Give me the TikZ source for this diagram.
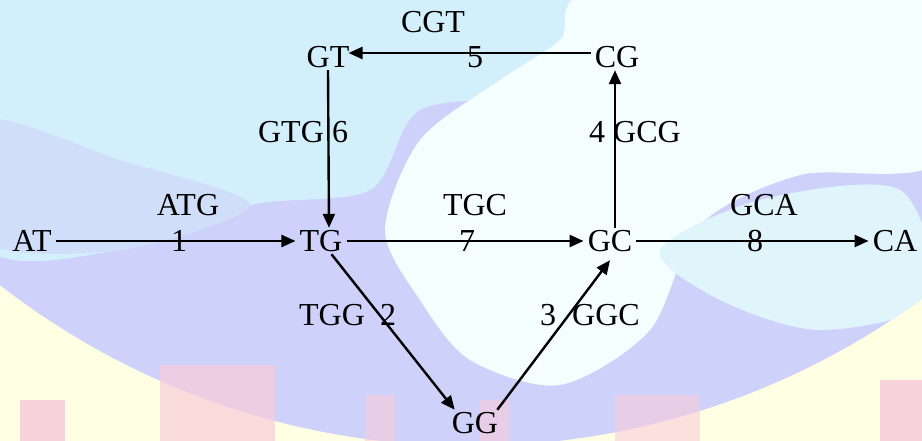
\documentclass[tikz,border=0pt]{standalone}
\usepackage{fontspec}
\setmainfont{Liberation Serif}
\usetikzlibrary{arrows.meta,calc}
\definecolor{cream}{HTML}{FFFFE4}
\definecolor{lav}{HTML}{CED2FA}
\definecolor{cyanl}{HTML}{D3EFFB}
\definecolor{whitec}{HTML}{F4FEFF}
\definecolor{pinkb}{HTML}{F9CCDA}
\newcommand\dfont{\fontsize{32}{38}\selectfont}
\tikzset{
  nd/.style={font=\dfont, inner xsep=4pt, inner ysep=2.5pt, text height=21pt, text depth=0pt},
  lab/.style={font=\dfont, inner sep=0pt, text height=21pt, text depth=0pt},
  edge/.style={line width=2.4pt, -{Triangle[length=14pt,width=12pt]}},
}
\begin{document}
\begin{tikzpicture}[x=1pt,y=-1pt]
\useasboundingbox (0,0) rectangle (922,441);
% background
\fill[cream] (0,0) rectangle (922,441);
\begin{scope}
\clip (0,0) rectangle (922,441);
\fill[lav] (470,-321) circle (767);
\clip (470,-321) circle (767);
\fill[cyanl] plot[smooth cycle] coordinates {(-20,-20) (700,-20) (650,60) (540,95) (420,110) (370,190) (250,205) (120,250) (-20,240)};
\fill[lav!60!cyanl] plot[smooth cycle] coordinates {(-20,120) (120,160) (250,205) (120,250) (-20,240)};
\fill[whitec] plot[smooth cycle] coordinates {(600,-10) (940,-10) (940,160) (800,175) (700,225) (650,330) (560,385) (470,360) (420,300) (385,230) (420,140) (500,80) (560,40)};
\fill[cyanl!70!white] plot[smooth cycle] coordinates {(660,250) (760,200) (900,190) (930,300) (820,330) (720,300)};
\end{scope}
\fill[pinkb, opacity=0.85] (20,400) rectangle (65,441);
\fill[pinkb, opacity=0.7] (160,365) rectangle (275,441);
\fill[pinkb, opacity=0.6] (365,395) rectangle (395,441);
\fill[pinkb, opacity=0.6] (480,400) rectangle (510,441);
\fill[pinkb, opacity=0.6] (615,395) rectangle (700,441);
\fill[pinkb, opacity=0.85] (880,380) rectangle (922,441);
% nodes
\node[nd] (AT) at (32,241) {AT};
\node[nd] (TG) at (321,241) {TG};
\node[nd] (GC) at (610,241) {GC};
\node[nd] (CA) at (895,241) {CA};
\node[nd] (GT) at (328,57) {GT};
\node[nd] (CG) at (617,57) {CG};
\node[nd] (GG) at (475,423) {GG};
% labels
\node[lab] (l5a) at (433,22) {CGT};
\node[lab] (l5b) at (475,57) {5};
\node[lab] (l6a) at (291,132) {GTG};
\node[lab] (l6b) at (340,132) {6};
\node[lab] (l4a) at (597,132) {4};
\node[lab] (l4b) at (647,132) {GCG};
\node[lab] (l1a) at (188,205) {ATG};
\node[lab] (l1b) at (179,241) {1};
\node[lab] (l7a) at (475,205) {TGC};
\node[lab] (l7b) at (467,241) {7};
\node[lab] (l8a) at (764,205) {GCA};
\node[lab] (l8b) at (755,241) {8};
\node[lab] (l2a) at (332,315) {TGG};
\node[lab] (l2b) at (388,315) {2};
\node[lab] (l3a) at (548,315) {3};
\node[lab] (l3b) at (606,315) {GGC};
% edges
\draw[edge] (AT) -- (TG);
\draw[edge] (TG) -- (GC);
\draw[edge] (GC) -- (CA);
\draw[edge] ([yshift=4pt]CG.west) -- ([yshift=4pt,xshift=-5pt]GT.east);
\draw[edge] (GT.south) -- ([xshift=8pt]TG.north);
\draw[edge] ([xshift=5pt]GC.north) -- ([xshift=-2pt]CG.south);
\draw[edge] (TG) -- ([xshift=7pt]GG.north west);
\draw[edge] ([xshift=-5pt]GG.north east) -- ([yshift=-6pt]GC.south);
\end{tikzpicture}
\end{document}
